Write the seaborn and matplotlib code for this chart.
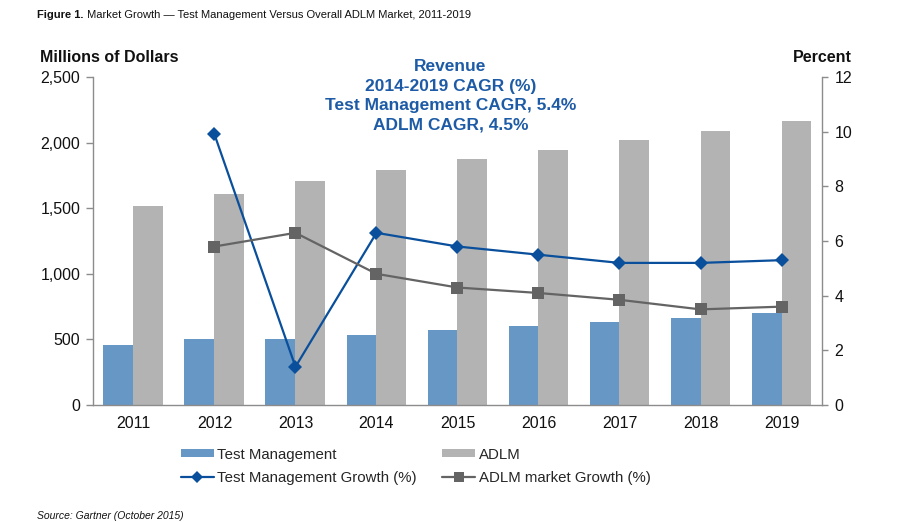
import numpy as np
import pandas as pd
import matplotlib
matplotlib.use("Agg")
import matplotlib.pyplot as plt
from matplotlib.lines import Line2D
from matplotlib.patches import Patch
import seaborn as sns

years = ["2011", "2012", "2013", "2014", "2015", "2016", "2017", "2018", "2019"]
test_mgmt = [455, 500, 506, 537, 569, 600, 636, 666, 704]
adlm = [1518, 1608, 1710, 1792, 1873, 1942, 2019, 2091, 2166]
growth_years = ["2012", "2013", "2014", "2015", "2016", "2017", "2018", "2019"]
test_growth = [9.9, 1.4, 6.3, 5.8, 5.5, 5.2, 5.2, 5.3]
adlm_growth = [5.8, 6.3, 4.8, 4.3, 4.1, 3.85, 3.5, 3.6]

series_names = ["Test Management", "ADLM"]
growth_names = ["Test Management Growth (%)", "ADLM market Growth (%)"]

BLUE_BAR = "#6797C5"
GRAY_BAR = "#B3B3B3"
BLUE_LINE = "#0A4F9C"
GRAY_LINE = "#646464"
TXT_BLUE = "#1D5BA6"
AXIS_GRAY = "#8C8C8C"

sns.set_theme(style="white")
plt.rcParams["font.family"] = ["Liberation Sans", "DejaVu Sans"]

df = pd.DataFrame({
    "Year": years * 2,
    "Value": test_mgmt + adlm,
    "Series": [series_names[0]] * len(years) + [series_names[1]] * len(years),
})

fig = plt.figure(figsize=(9.06, 5.22), dpi=100)
ax = fig.add_axes([0.1026, 0.224, 0.8047, 0.6285])

sns.barplot(data=df, x="Year", y="Value", hue="Series", order=years,
            hue_order=series_names, palette=[BLUE_BAR, GRAY_BAR],
            width=0.74, gap=0, saturation=1, linewidth=0, ax=ax, legend=False)

ax.set_xlim(-0.5, len(years) - 0.5)
ax.set_ylim(0, 2500)
ax.set_yticks([0, 500, 1000, 1500, 2000, 2500])
ax.set_yticklabels(["0", "500", "1,000", "1,500", "2,000", "2,500"])
ax.set_xlabel("")
ax.set_ylabel("")
ax.tick_params(axis="x", which="major", length=0, pad=8, labelsize=11.5, colors="#111111")
ax.set_xticks(np.arange(-0.5, len(years), 1), minor=True)
ax.tick_params(axis="x", which="minor", length=5, width=1, color=AXIS_GRAY, direction="out")
ax.tick_params(axis="y", length=5, width=1, color=AXIS_GRAY, direction="out",
               labelsize=11.5, labelcolor="#111111", pad=4)

ax2 = ax.twinx()
gx = [years.index(y) for y in growth_years]
sns.lineplot(x=gx, y=test_growth, ax=ax2, color=BLUE_LINE, marker="D",
             markersize=7, markeredgewidth=0, linewidth=1.6)
sns.lineplot(x=gx, y=adlm_growth, ax=ax2, color=GRAY_LINE, marker="s",
             markersize=9, markeredgewidth=0, linewidth=1.6)
ax2.set_ylim(0, 12)
ax2.set_yticks(np.arange(0, 13, 2))
ax2.set_xlim(-0.5, len(years) - 0.5)
ax2.tick_params(axis="y", length=4, width=1, color=AXIS_GRAY, direction="out",
                labelsize=11.5, labelcolor="#111111", pad=5)

for a in (ax, ax2):
    a.spines["top"].set_visible(False)
    for s in ["left", "right", "bottom"]:
        a.spines[s].set_color(AXIS_GRAY)
        a.spines[s].set_linewidth(1)
ax.spines["right"].set_visible(False)
ax2.spines["left"].set_visible(False)
ax2.spines["bottom"].set_visible(False)

fig.text(0.044, 0.881, "Millions of Dollars", fontsize=11.5, fontweight="bold", color="#111111")
fig.text(0.94, 0.881, "Percent", fontsize=11.5, fontweight="bold", color="#111111", ha="right")

fig.text(0.497, 0.816, "Revenue\n2014-2019 CAGR (%)\nTest Management CAGR, 5.4%\nADLM CAGR, 4.5%",
         ha="center", va="center", fontsize=12.5, fontweight="bold", color=TXT_BLUE,
         linespacing=1.38)

t1 = fig.text(0.041, 0.971, "Figure 1.", fontsize=8, fontweight="bold", color="#111111", va="center")
fig.canvas.draw()
plt.annotate(" Market Growth \u2014 Test Management Versus Overall ADLM Market, 2011-2019",
             xy=(1, 0.5), xycoords=t1, va="center", ha="left",
             fontsize=8, color="#111111", annotation_clip=False)
fig.text(0.041, 0.005, "Source: Gartner (October 2015)", fontsize=7.5, style="italic", color="#111111")

handles = [
    Patch(facecolor=BLUE_BAR, edgecolor="none"),
    Line2D([0], [0], color=BLUE_LINE, marker="D", markersize=6, markeredgewidth=0, linewidth=1.6),
    Patch(facecolor=GRAY_BAR, edgecolor="none"),
    Line2D([0], [0], color=GRAY_LINE, marker="s", markersize=7, markeredgewidth=0, linewidth=1.6),
]
labels = [series_names[0], growth_names[0], series_names[1], growth_names[1]]
fig.legend(handles, labels, ncol=2, loc="center", bbox_to_anchor=(0.459, 0.107),
           frameon=False, fontsize=10.8, handlelength=2.2, handleheight=0.45,
           handletextpad=0.25, columnspacing=1.7, labelspacing=0.6, borderpad=0)

fig.savefig("out.png", dpi=100)
